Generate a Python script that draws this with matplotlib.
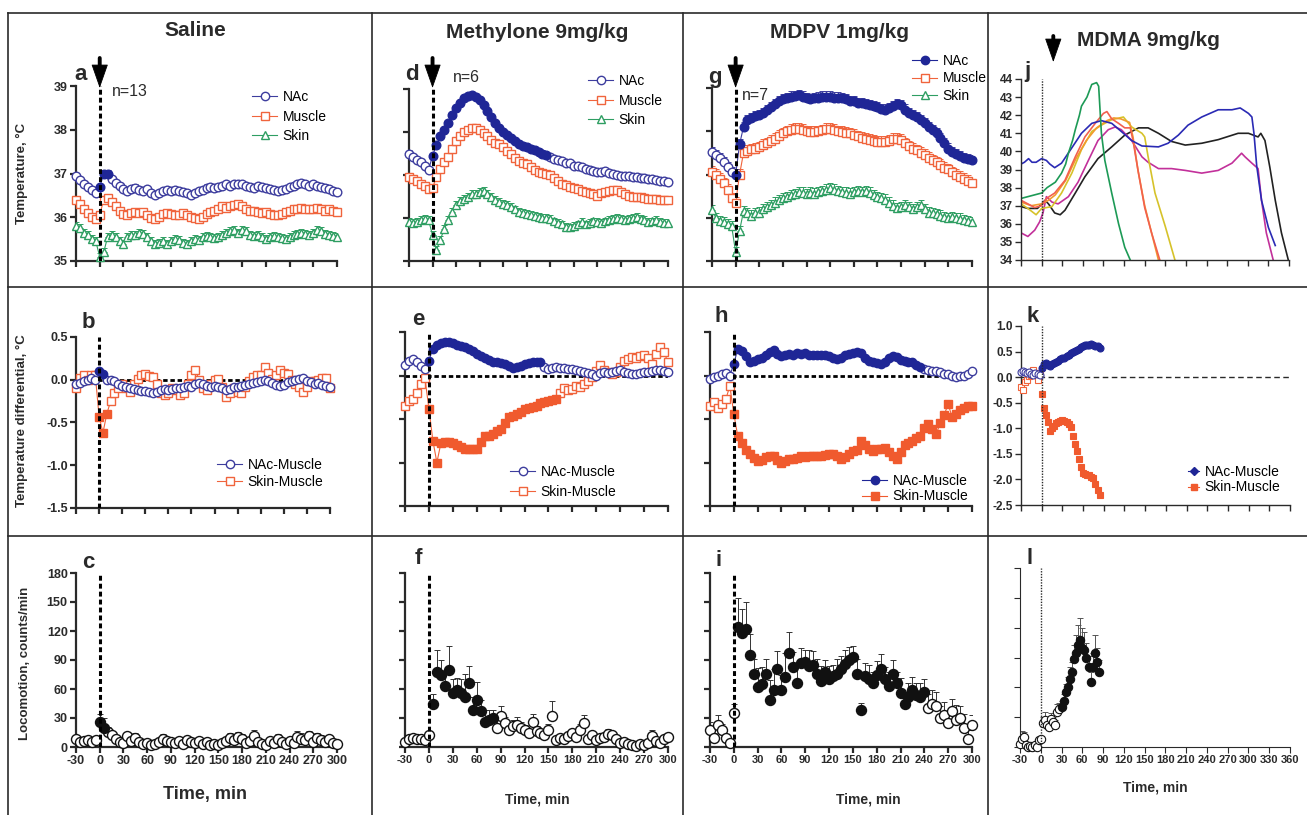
import numpy as np
import matplotlib
matplotlib.use("Agg")
import matplotlib.pyplot as plt
from matplotlib.lines import Line2D

plt.rcParams['font.family'] = ['Liberation Sans', 'DejaVu Sans']
plt.rcParams['font.weight'] = 'bold'
plt.rcParams['axes.unicode_minus'] = False

# time grids, min
t5 = np.arange(-30, 301, 5)
t3 = np.arange(-30, 85, 3)

# ---- row 1: temperature (degC) ----
sal_nac = [36.95, 36.85, 36.75, 36.70, 36.62, 36.55,
           36.70, 36.98, 37.00, 36.88, 36.78, 36.72, 36.65, 36.60, 36.65, 36.68,
           36.62, 36.60, 36.65, 36.55, 36.50, 36.55, 36.60, 36.62, 36.60, 36.62,
           36.60, 36.58, 36.55, 36.50, 36.55, 36.60, 36.62, 36.68, 36.70, 36.68,
           36.70, 36.72, 36.75, 36.72, 36.75, 36.77, 36.75, 36.72, 36.70, 36.68,
           36.72, 36.70, 36.68, 36.65, 36.62, 36.60, 36.62, 36.65, 36.70, 36.72,
           36.75, 36.78, 36.75, 36.72, 36.75, 36.72, 36.70, 36.68, 36.65, 36.60, 36.58]
sal_mus = [36.40, 36.30, 36.20, 36.10, 36.00, 35.97,
           36.05, 36.40, 36.45, 36.35, 36.25, 36.15, 36.08, 36.05, 36.10, 36.12,
           36.10, 36.12, 36.05, 35.98, 35.95, 36.00, 36.08, 36.10, 36.08, 36.05,
           36.05, 36.10, 36.05, 36.00, 35.98, 35.95, 36.00, 36.08, 36.12, 36.15,
           36.20, 36.25, 36.22, 36.25, 36.28, 36.30, 36.25, 36.20, 36.15, 36.15,
           36.12, 36.10, 36.12, 36.08, 36.05, 36.05, 36.08, 36.12, 36.15, 36.18,
           36.20, 36.22, 36.20, 36.18, 36.20, 36.22, 36.18, 36.15, 36.20, 36.15, 36.12]
sal_skin = [35.80, 35.75, 35.65, 35.60, 35.50, 35.45,
            35.10, 35.20, 35.55, 35.60, 35.55, 35.45, 35.40, 35.55, 35.60, 35.60,
            35.65, 35.62, 35.55, 35.45, 35.40, 35.42, 35.45, 35.40, 35.45, 35.50,
            35.48, 35.42, 35.38, 35.45, 35.50, 35.48, 35.55, 35.58, 35.55, 35.52,
            35.55, 35.60, 35.65, 35.68, 35.70, 35.65, 35.70, 35.68, 35.60, 35.58,
            35.60, 35.55, 35.50, 35.55, 35.58, 35.55, 35.52, 35.50, 35.55, 35.60,
            35.62, 35.65, 35.62, 35.60, 35.65, 35.70, 35.68, 35.62, 35.60, 35.58, 35.55]

met_nac = [37.50, 37.42, 37.35, 37.30, 37.22, 37.12,
           37.45, 37.70, 37.90, 38.05, 38.20, 38.40, 38.55, 38.68, 38.78, 38.84,
           38.86, 38.82, 38.75, 38.62, 38.48, 38.35, 38.22, 38.10, 38.00, 37.92,
           37.85, 37.78, 37.72, 37.68, 37.65, 37.60, 37.57, 37.53, 37.50, 37.47,
           37.42, 37.38, 37.35, 37.32, 37.28, 37.27, 37.22, 37.20, 37.18, 37.15,
           37.12, 37.10, 37.08, 37.07, 37.10, 37.05, 37.02, 37.00, 36.98, 36.97,
           36.98, 36.96, 36.95, 36.93, 36.92, 36.90, 36.90, 36.88, 36.86, 36.85, 36.84]
met_mus = [36.95, 36.90, 36.85, 36.80, 36.75, 36.68,
           36.70, 36.95, 37.15, 37.30, 37.42, 37.60, 37.78, 37.90, 38.00, 38.05,
           38.10, 38.10, 38.05, 37.98, 37.90, 37.82, 37.75, 37.72, 37.65, 37.55,
           37.48, 37.40, 37.33, 37.28, 37.25, 37.18, 37.12, 37.08, 37.05, 37.03,
           37.00, 36.92, 36.85, 36.80, 36.76, 36.72, 36.70, 36.68, 36.62, 36.60,
           36.58, 36.55, 36.52, 36.57, 36.60, 36.62, 36.65, 36.66, 36.60, 36.55,
           36.52, 36.50, 36.50, 36.48, 36.47, 36.45, 36.45, 36.44, 36.43, 36.42, 36.42]
met_skin = [35.90, 35.88, 35.90, 35.95, 35.97, 35.95,
            35.60, 35.25, 35.50, 35.75, 35.95, 36.15, 36.30, 36.40, 36.45, 36.50,
            36.55, 36.55, 36.60, 36.62, 36.55, 36.50, 36.42, 36.38, 36.33, 36.30,
            36.25, 36.20, 36.15, 36.12, 36.10, 36.08, 36.05, 36.02, 36.00, 36.00,
            35.98, 35.92, 35.88, 35.85, 35.80, 35.78, 35.82, 35.85, 35.90, 35.85,
            35.88, 35.92, 35.90, 35.88, 35.92, 35.95, 35.97, 36.00, 35.97, 35.95,
            35.98, 36.00, 36.02, 35.98, 35.95, 35.90, 35.92, 35.95, 35.90, 35.88, 35.88]

mdpv_nac = [37.52, 37.45, 37.38, 37.28, 37.18, 37.05,
            37.00, 37.70, 38.10, 38.25, 38.30, 38.35, 38.37, 38.42, 38.48, 38.55,
            38.62, 38.70, 38.74, 38.76, 38.80, 38.82, 38.83, 38.80, 38.77, 38.75,
            38.76, 38.78, 38.80, 38.80, 38.80, 38.78, 38.78, 38.76, 38.74, 38.70,
            38.70, 38.66, 38.65, 38.62, 38.60, 38.58, 38.55, 38.52, 38.50, 38.53,
            38.58, 38.62, 38.60, 38.50, 38.42, 38.38, 38.33, 38.25, 38.18, 38.10,
            38.02, 37.95, 37.85, 37.72, 37.60, 37.52, 37.48, 37.42, 37.38, 37.35, 37.33]
mdpv_mus = [37.06, 37.00, 36.90, 36.80, 36.65, 36.45,
            36.35, 37.00, 37.50, 37.55, 37.58, 37.60, 37.63, 37.68, 37.72, 37.78,
            37.82, 37.90, 37.95, 38.00, 38.03, 38.05, 38.06, 38.04, 38.00, 37.98,
            37.98, 38.00, 38.02, 38.05, 38.06, 38.04, 38.00, 37.98, 37.96, 37.95,
            37.92, 37.88, 37.85, 37.83, 37.80, 37.78, 37.76, 37.75, 37.76, 37.78,
            37.82, 37.83, 37.80, 37.72, 37.65, 37.60, 37.56, 37.50, 37.45, 37.38,
            37.33, 37.28, 37.22, 37.16, 37.12, 37.05, 36.99, 36.95, 36.90, 36.85, 36.80]
mdpv_skin = [36.18, 36.00, 35.92, 35.90, 35.85, 35.80,
             35.20, 35.70, 36.15, 36.10, 36.05, 36.10, 36.12, 36.20, 36.25, 36.30,
             36.35, 36.40, 36.45, 36.48, 36.52, 36.55, 36.60, 36.58, 36.55, 36.58,
             36.56, 36.60, 36.62, 36.65, 36.68, 36.65, 36.62, 36.60, 36.58, 36.56,
             36.60, 36.62, 36.60, 36.62, 36.58, 36.52, 36.48, 36.45, 36.42, 36.35,
             36.28, 36.22, 36.25, 36.30, 36.25, 36.20, 36.25, 36.30, 36.20, 36.12,
             36.10, 36.08, 36.05, 36.02, 36.00, 36.02, 36.00, 35.98, 35.95, 35.92, 35.90]

# MDMA individual traces (time, temperature)
j_green_t = [-30, -20, -10, 0, 8, 20, 29, 35, 39, 45, 49, 55, 58, 66, 73, 80, 83, 85, 87, 92, 102, 112, 121, 129]
j_green_T = [37.4, 37.5, 37.6, 37.7, 38.0, 38.3, 38.8, 39.3, 39.9, 40.6, 41.2, 42.0, 42.5, 43.0, 43.7, 43.8,
             43.6, 42.3, 41.0, 39.5, 37.7, 36.0, 34.7, 34.0]
j_blue_t = [-30, -25, -19, -14, -8, 0, 7, 12, 19, 29, 44, 58, 73, 87, 102, 116, 131, 146, 170, 184, 199,
            213, 233, 257, 277, 289, 301, 306, 309, 313, 320, 330, 340]
j_blue_T = [39.3, 39.4, 39.6, 39.4, 39.4, 39.6, 39.5, 39.3, 39.1, 39.35, 40.2, 41.0, 41.55, 41.7, 41.55,
            41.1, 40.6, 40.3, 40.25, 40.45, 40.9, 41.45, 41.9, 42.3, 42.3, 42.4, 42.1, 41.9, 41.0, 39.2,
            37.3, 35.8, 34.8]
j_red_t = [-30, -20, -10, 0, 7, 19, 34, 49, 63, 78, 90, 95, 102, 112, 121, 129, 133, 141, 150, 160, 172]
j_red_T = [37.3, 37.1, 36.9, 37.0, 37.4, 37.7, 38.4, 39.7, 40.8, 41.55, 42.1, 42.2, 41.8, 41.55, 41.3,
           41.3, 40.6, 38.8, 36.9, 35.5, 34.0]
j_orange_t = [-30, -15, 0, 10, 20, 35, 50, 65, 80, 95, 105, 115, 128, 133, 140, 150, 160, 170]
j_orange_T = [37.2, 37.0, 37.1, 37.3, 37.6, 38.4, 39.6, 40.6, 41.3, 41.7, 41.85, 41.8, 41.6, 40.8, 39.0,
              37.0, 35.5, 34.0]
j_yellow_t = [-30, -20, -8, 0, 15, 29, 44, 58, 73, 87, 102, 119, 131, 146, 150, 155, 165, 180, 194]
j_yellow_T = [37.1, 36.85, 36.5, 36.85, 36.95, 37.7, 38.8, 40.1, 41.1, 41.45, 41.75, 41.9, 41.35, 41.0,
              40.8, 39.7, 37.7, 35.85, 34.0]
j_magenta_t = [-30, -20, -10, -3, 2, 7, 15, 24, 39, 53, 68, 82, 97, 107, 116, 131, 146, 155, 170, 189,
               209, 233, 257, 277, 291, 296, 306, 315, 320, 327, 337]
j_magenta_T = [35.5, 35.3, 35.65, 36.1, 36.6, 37.5, 37.2, 37.1, 37.5, 38.3, 39.5, 40.6, 41.2, 41.35,
               41.2, 40.6, 39.7, 39.4, 39.05, 39.05, 38.95, 38.8, 38.95, 39.35, 39.9, 39.7, 39.35, 39.05,
               37.3, 35.5, 34.0]
j_black_t = [-30, -20, -6, 5, 10, 19, 27, 34, 49, 63, 82, 102, 121, 141, 155, 170, 189, 209, 233, 257,
             286, 301, 315, 319, 325, 332, 340, 349, 359]
j_black_T = [36.95, 36.85, 36.85, 37.3, 37.1, 36.6, 36.5, 36.75, 37.7, 38.6, 39.6, 40.25, 40.9, 41.3,
             41.3, 41.0, 40.55, 40.35, 40.45, 40.65, 41.0, 41.0, 40.8, 41.0, 40.6, 39.15, 37.3, 35.5, 34.0]

# ---- row 2: differentials (degC) ----
sal_nm = [-0.05, -0.04, -0.02, 0.00, 0.02, 0.00,
          0.10, 0.07, 0.00, 0.00, -0.02, -0.05, -0.07, -0.09, -0.10, -0.11,
          -0.12, -0.13, -0.13, -0.14, -0.15, -0.14, -0.12, -0.11, -0.12, -0.11,
          -0.10, -0.10, -0.08, -0.07, -0.08, -0.05, -0.04, -0.05, -0.07, -0.08,
          -0.07, -0.08, -0.10, -0.12, -0.11, -0.09, -0.08, -0.07, -0.06, -0.05,
          -0.04, -0.03, -0.02, 0.00, -0.02, -0.04, -0.06, -0.07, -0.06, -0.03,
          -0.01, 0.00, 0.01, 0.02, -0.01, -0.03, -0.05, -0.04, -0.06, -0.07, -0.08]
sal_sm = [-0.10, 0.02, 0.05, 0.00, 0.05, 0.06,
          -0.43, -0.62, -0.40, -0.25, -0.15, -0.10, -0.05, -0.10, -0.14, -0.05,
          0.01, 0.05, 0.07, 0.04, 0.03, -0.05, -0.15, -0.18, -0.15, -0.10,
          -0.12, -0.18, -0.15, -0.05, 0.05, 0.11, 0.00, -0.10, -0.12, -0.05,
          0.00, 0.01, -0.08, -0.20, -0.15, -0.10, -0.14, -0.16, -0.08, -0.02,
          0.03, 0.05, 0.05, 0.15, 0.08, 0.01, 0.05, 0.11, 0.08, 0.07,
          0.00, -0.05, -0.08, -0.14, -0.08, -0.02, -0.01, 0.00, 0.02, 0.02, -0.10]
met_nm = [0.12, 0.17, 0.19, 0.15, 0.11, 0.07,
          0.17, 0.31, 0.35, 0.37, 0.38, 0.38, 0.37, 0.35, 0.34, 0.33,
          0.31, 0.28, 0.25, 0.22, 0.20, 0.18, 0.16, 0.15, 0.14, 0.13,
          0.11, 0.09, 0.10, 0.11, 0.13, 0.14, 0.15, 0.16, 0.15, 0.10,
          0.08, 0.09, 0.10, 0.09, 0.09, 0.08, 0.07, 0.06, 0.05, 0.04,
          0.03, 0.02, 0.00, 0.03, 0.04, 0.03, 0.04, 0.05, 0.06, 0.04,
          0.03, 0.02, 0.02, 0.03, 0.04, 0.04, 0.05, 0.06, 0.06, 0.05, 0.04]
met_sm = [-0.35, -0.29, -0.27, -0.20, -0.10, -0.03,
          -0.38, -0.75, -1.00, -0.78, -0.77, -0.76, -0.78, -0.80, -0.82, -0.84,
          -0.85, -0.85, -0.85, -0.76, -0.70, -0.69, -0.67, -0.64, -0.61, -0.55,
          -0.48, -0.46, -0.44, -0.42, -0.39, -0.37, -0.36, -0.35, -0.32, -0.30,
          -0.29, -0.28, -0.27, -0.20, -0.14, -0.17, -0.15, -0.12, -0.13, -0.10,
          -0.06, -0.02, 0.05, 0.12, 0.06, 0.04, 0.02, 0.04, 0.10, 0.17,
          0.19, 0.21, 0.20, 0.22, 0.23, 0.20, 0.13, 0.25, 0.33, 0.27, 0.15]
mdpv_nm = [-0.04, -0.02, 0.00, 0.02, 0.03, 0.00,
           0.13, 0.31, 0.28, 0.22, 0.16, 0.17, 0.19, 0.20, 0.23, 0.27,
           0.29, 0.25, 0.22, 0.24, 0.25, 0.24, 0.26, 0.25, 0.26, 0.24,
           0.24, 0.23, 0.23, 0.23, 0.22, 0.20, 0.19, 0.20, 0.23, 0.25,
           0.26, 0.27, 0.26, 0.20, 0.17, 0.15, 0.14, 0.13, 0.16, 0.20,
           0.22, 0.21, 0.18, 0.17, 0.16, 0.15, 0.12, 0.10, 0.08, 0.06,
           0.05, 0.05, 0.04, 0.02, 0.02, 0.00, -0.02, -0.01, 0.00, 0.02, 0.05]
mdpv_sm = [-0.35, -0.30, -0.37, -0.33, -0.27, -0.12,
           -0.44, -0.70, -0.78, -0.86, -0.90, -0.95, -0.98, -0.97, -0.94, -0.93,
           -0.92, -0.97, -1.00, -0.98, -0.96, -0.96, -0.95, -0.93, -0.94, -0.93,
           -0.93, -0.92, -0.92, -0.91, -0.90, -0.90, -0.93, -0.96, -0.94, -0.90,
           -0.87, -0.86, -0.75, -0.80, -0.85, -0.87, -0.85, -0.84, -0.83, -0.88,
           -0.93, -0.96, -0.88, -0.80, -0.78, -0.75, -0.72, -0.69, -0.60, -0.56,
           -0.62, -0.67, -0.55, -0.45, -0.33, -0.48, -0.44, -0.40, -0.37, -0.35, -0.35]
mdma_nm = [0.10, 0.12, 0.10, 0.08, 0.10, 0.07, 0.05, 0.08, 0.06, 0.04,
           0.17, 0.25, 0.27, 0.24, 0.22, 0.25, 0.28, 0.30, 0.32, 0.35,
           0.37, 0.38, 0.42, 0.44, 0.47, 0.50, 0.51, 0.53, 0.55, 0.58,
           0.60, 0.63, 0.63, 0.62, 0.64, 0.63, 0.60, 0.60, 0.57]
mdma_sm = [-0.19, -0.25, -0.10, -0.05, 0.02, 0.04, 0.14, 0.08, -0.06, 0.07,
           -0.32, -0.61, -0.74, -0.88, -1.05, -1.00, -0.95, -0.90, -0.87, -0.85,
           -0.84, -0.85, -0.87, -0.92, -0.98, -1.15, -1.30, -1.45, -1.60, -1.75,
           -1.88, -1.90, -1.91, -1.92, -1.95, -1.98, -2.08, -2.20, -2.30]

# ---- row 3: locomotion (counts/min) ----
sal_loc = [8, 5, 6, 7, 5, 7,
           26, 20, 16, 12, 8, 5, 4, 11, 6, 9,
           5, 3, 4, 2, 3, 5, 8, 6, 5, 4,
           6, 3, 7, 5, 4, 6, 3, 5, 2, 3,
           2, 4, 6, 9, 7, 10, 8, 4, 6, 11,
           5, 3, 2, 6, 4, 8, 5, 3, 6, 4,
           10, 8, 7, 11, 5, 9, 7, 5, 8, 4, 3]
sal_sem = [3, 3, 3, 3, 3, 3,
           8, 10, 5, 4, 4, 3, 3, 5, 3, 5,
           3, 2, 2, 2, 2, 3, 5, 3, 3, 2,
           3, 2, 4, 3, 2, 3, 2, 3, 2, 2,
           2, 3, 3, 6, 4, 6, 5, 3, 4, 7,
           3, 2, 2, 4, 3, 5, 3, 2, 4, 3,
           7, 6, 5, 6, 3, 6, 5, 3, 4, 3, 2]
met_loc = [5, 8, 9, 8, 8, 7,
           12, 45, 78, 75, 63, 80, 56, 59, 56, 52,
           66, 38, 49, 37, 26, 28, 30, 20, 32, 25,
           18, 22, 23, 20, 18, 14, 26, 17, 14, 12,
           18, 32, 7, 9, 8, 11, 14, 10, 18, 25,
           8, 12, 7, 9, 10, 13, 12, 8, 4, 5,
           3, 2, 1, 3, 2, 4, 11, 6, 4, 8, 10]
met_sem = [3, 3, 3, 3, 3, 3,
           4, 10, 22, 15, 15, 25, 14, 12, 14, 24,
           18, 14, 18, 12, 12, 10, 8, 8, 10, 6,
           5, 6, 8, 6, 5, 4, 8, 5, 4, 4,
           6, 16, 3, 3, 3, 4, 5, 4, 6, 8,
           3, 4, 3, 3, 3, 6, 5, 3, 2, 2,
           2, 1, 1, 2, 1, 2, 7, 3, 2, 3, 4]
mdpv_loc = [18, 9, 23, 18, 9, 4,
            35, 124, 118, 122, 95, 76, 62, 65, 76, 49,
            59, 81, 59, 72, 97, 83, 66, 87, 88, 84,
            85, 76, 68, 78, 70, 73, 76, 81, 86, 90,
            93, 76, 38, 73, 70, 66, 75, 81, 70, 63,
            76, 66, 56, 45, 52, 59, 54, 52, 57, 40,
            45, 42, 30, 33, 25, 37, 28, 30, 20, 8, 23]
mdpv_sem = [8, 5, 10, 6, 4, 3,
            10, 30, 25, 28, 22, 15, 20, 18, 15, 20,
            22, 18, 15, 25, 22, 15, 18, 15, 12, 16,
            14, 15, 16, 12, 14, 12, 15, 13, 14, 13,
            12, 15, 8, 14, 15, 12, 14, 15, 13, 15,
            14, 12, 15, 12, 14, 13, 12, 14, 13, 15,
            14, 15, 12, 14, 12, 13, 15, 12, 14, 10, 10]
mdma_loc = [3, 8, 10, 2, 0, 1, 0, 2, 0, 7,
            8, 24, 27, 22, 20, 28, 25, 22, 35, 38,
            40, 46, 55, 60, 68, 75, 88, 95, 103, 108,
            100, 98, 90, 80, 65, 80, 95, 85, 75]
mdma_sem = [2, 8, 5, 1, 1, 1, 1, 1, 1, 3,
            3, 6, 8, 5, 5, 6, 5, 5, 8, 6,
            6, 7, 8, 10, 12, 10, 15, 18, 20, 22,
            20, 18, 15, 12, 10, 15, 18, 15, 12]

BLUE = '#3d3d9e'
BLUE_F = '#1f2696'
ORANGE = '#f0643c'
GREEN = '#2e9e62'
INK = '#2a2a2a'

W, H = 1307, 815
fig = plt.figure(figsize=(W / 100, H / 100), dpi=100)


def box(l, t, r, b):
    return [l / W, 1 - b / H, (r - l) / W, (b - t) / H]


def ftext(x, y, s, **kw):
    fig.text(x / W, 1 - y / H, s, color=INK, **kw)


def style(ax, xmax=300, xlab=False, ylab=True, lw=1.6, fs=9):
    for s in ['top', 'right']:
        ax.spines[s].set_visible(False)
    for s in ['left', 'bottom']:
        ax.spines[s].set_linewidth(lw)
        ax.spines[s].set_color(INK)
    ax.set_xlim(-30, xmax)
    ax.set_xticks(np.arange(-30, xmax + 1, 30))
    ax.tick_params(direction='out', length=4, width=lw, labelsize=fs, color=INK,
                   labelcolor=INK, pad=2)
    if not xlab:
        ax.set_xticklabels([])
    if not ylab:
        ax.set_yticklabels([])


def trace(ax, t, y, color, marker, ms, sig=None, fill=None, sem=None, line=True,
          ecolor=None, mew=1.0):
    t = np.asarray(t, float)
    y = np.asarray(y, float)
    if line:
        ax.plot(t, y, '-', color=color, lw=0.8, zorder=2)
    if sem is not None:
        up = np.broadcast_to(np.asarray(sem, float), y.shape)
        ax.errorbar(t, y, yerr=[np.zeros_like(y), up], fmt='none',
                    ecolor=ecolor or color, elinewidth=0.7, capsize=2.2,
                    capthick=0.7, zorder=1)
    m = np.zeros(len(t), bool) if sig is None else (t >= sig[0]) & (t <= sig[1])
    ax.plot(t[~m], y[~m], ls='none', marker=marker, ms=ms, mfc='white', mec=color,
            mew=mew, zorder=3, clip_on=False)
    if m.any():
        fc = fill or color
        ax.plot(t[m], y[m], ls='none', marker=marker, ms=ms, mfc=fc, mec=fc,
                mew=mew, zorder=4, clip_on=False)


def vline0(ax, thin=False):
    if thin:
        ax.axvline(0, color=INK, ls=(0, (1, 1)), lw=1.0, zorder=5)
    else:
        ax.axvline(0, color='k', ls=(0, (1.6, 1.0)), lw=2.2, zorder=5)


def arrow(ax, x, y_tail, y_tip):
    # shaft and head drawn separately so the head keeps a slim outline
    kw = dict(xycoords=('data', 'figure pixels'), textcoords=('data', 'figure pixels'),
              annotation_clip=False)
    ax.annotate('', xy=(x, H - (y_tip - 10)), xytext=(x, H - y_tail),
                arrowprops=dict(arrowstyle='-', lw=2.8, color='k', shrinkA=0, shrinkB=0), **kw)
    ax.annotate('', xy=(x, H - y_tip), xytext=(x, H - (y_tip - 16)),
                arrowprops=dict(arrowstyle='-|>,head_length=1.2,head_width=0.42', lw=0.6,
                                color='k', shrinkA=0, shrinkB=0, mutation_scale=13), **kw)


def legend(ax, handles, labels, x, y, spacing, hl=1.8):
    ax.legend(handles, labels, loc='upper left', bbox_to_anchor=(x / W, 1 - y / H),
              bbox_transform=fig.transFigure, frameon=False, borderpad=0,
              borderaxespad=0, handlelength=hl, handletextpad=0.4,
              labelspacing=spacing, prop={'size': 10, 'weight': 'normal'})


def h(color, marker, filled=False, ms=6):
    return Line2D([], [], color=color, lw=0.8, marker=marker, ms=ms,
                  mfc=color if filled else 'white', mec=color, mew=1)


# frame lines of the figure table
for x in [8, 372, 683, 988]:
    fig.add_artist(Line2D([x / W, x / W], [1 - 13 / H, 0], color=INK, lw=1.2))
for y in [13, 287, 536]:
    fig.add_artist(Line2D([8 / W, 1], [1 - y / H, 1 - y / H], color=INK, lw=1.2))

# ---------------- row 1 ----------------
temp_sets = [
    ((76, 86, 337, 261), sal_nac, sal_mus, sal_skin, (0, 10), (0.07, 0.09, 0.09), True),
    ((409, 89, 668, 261), met_nac, met_mus, met_skin, (0, 145), (0.07, 0.08, 0.09), False),
    ((712, 88, 972, 261), mdpv_nac, mdpv_mus, mdpv_skin, (0, 300), (0.12, 0.13, 0.12), False),
]
tax = []
for bx, nac, mus, skin, sig, sems, ylab in temp_sets:
    ax = fig.add_axes(box(*bx))
    trace(ax, t5, skin, GREEN, '^', 6.3, sem=sems[2])
    trace(ax, t5, mus, ORANGE, 's', 5.8, sem=sems[1])
    trace(ax, t5, nac, BLUE, 'o', 6.2, sig=sig, fill=BLUE_F, sem=sems[0])
    ax.set_ylim(35, 39)
    ax.set_yticks([35, 36, 37, 38, 39])
    style(ax, ylab=ylab)
    vline0(ax)
    arrow(ax, 0, 58, 88)
    tax.append(ax)

legend(tax[0], [h(BLUE, 'o'), h(ORANGE, 's'), h(GREEN, '^')], ['NAc', 'Muscle', 'Skin'],
       252, 90, 0.4)
legend(tax[1], [h(BLUE, 'o'), h(ORANGE, 's'), h(GREEN, '^')], ['NAc', 'Muscle', 'Skin'],
       588, 74, 0.4)
legend(tax[2], [h(BLUE_F, 'o', True), h(ORANGE, 's'), h(GREEN, '^')], ['NAc', 'Muscle', 'Skin'],
       912, 54, 0.25)

axj = fig.add_axes(box(1021, 79, 1289, 260))
for tt, TT, c in [(j_black_t, j_black_T, '#222222'), (j_magenta_t, j_magenta_T, '#c2309a'),
                  (j_yellow_t, j_yellow_T, '#d6c22a'), (j_orange_t, j_orange_T, '#f29a2e'),
                  (j_red_t, j_red_T, '#f2604e'), (j_blue_t, j_blue_T, '#2a2ab4'),
                  (j_green_t, j_green_T, '#1d9a56')]:
    axj.plot(tt, TT, color=c, lw=1.2)
axj.set_ylim(34, 44)
axj.set_yticks(range(34, 45))
style(axj, xmax=360, lw=1.0, fs=8.5)
vline0(axj, thin=True)
arrow(axj, 17, 36, 62)

# ---------------- row 2 ----------------
diff_sets = [
    ((76, 337, 330, 508), sal_nm, sal_sm, (0, 5), (0, 10), True),
    ((405, 332, 668, 506), met_nm, met_sm, (0, 140), (0, 160), False),
    ((710, 332, 972, 506), mdpv_nm, mdpv_sm, (0, 235), (0, 300), False),
]
dax = []
for bx, nm, sm, sig1, sig2, ylab in diff_sets:
    ax = fig.add_axes(box(*bx))
    ax.axhline(0, color='k', ls=(0, (1.6, 1.0)), lw=2.0, zorder=0.5)
    trace(ax, t5, sm, ORANGE, 's', 6.0, sig=sig2, fill='#f05a2e')
    trace(ax, t5, nm, BLUE, 'o', 6.0, sig=sig1, fill=BLUE_F)
    ax.set_ylim(-1.5, 0.5)
    ax.set_yticks([-1.5, -1.0, -0.5, 0.0, 0.5])
    ax.set_yticklabels(['-1.5', '-1.0', '-0.5', '0.0', '0.5'])
    style(ax, ylab=ylab)
    vline0(ax)
    dax.append(ax)

legend(dax[0], [h(BLUE, 'o'), h(ORANGE, 's')], ['NAc-Muscle', 'Skin-Muscle'], 217, 458, 0.22)
legend(dax[1], [h(BLUE, 'o'), h(ORANGE, 's')], ['NAc-Muscle', 'Skin-Muscle'], 510, 465, 0.45)
legend(dax[2], [h(BLUE_F, 'o', True), h('#f05a2e', 's', True)], ['NAc-Muscle', 'Skin-Muscle'],
       862, 474, 0.1)

axk = fig.add_axes(box(1021, 326, 1290, 505))
axk.axhline(0, color=INK, ls=(0, (4, 2.5)), lw=1.0, zorder=0.5)
trace(axk, t3, mdma_sm, ORANGE, 's', 5.0, sig=(0, 90), fill='#f05a2e', line=False, mew=0.8)
trace(axk, t3, mdma_nm, BLUE, 'o', 5.0, sig=(0, 90), fill=BLUE_F, line=False, mew=0.8)
axk.set_ylim(-2.5, 1.0)
axk.set_yticks(np.arange(-2.5, 1.01, 0.5))
axk.set_yticklabels(['-2.5', '-2.0', '-1.5', '-1.0', '-0.5', '0.0', '0.5', '1.0'])
style(axk, xmax=360, lw=1.0, fs=8.5)
vline0(axk, thin=True)
legend(axk, [h(BLUE_F, 'D', True, 4), h('#f05a2e', 's', True, 5)], ['NAc-Muscle', 'Skin-Muscle'],
       1188, 465, 0.1, hl=0.8)

# ---------------- row 3 ----------------
loc_sets = [
    ((76, 573, 337, 747), sal_loc, sal_sem, (0, 5), True, 9),
    ((405, 573, 668, 747), met_loc, met_sem, (5, 80), False, 8),
    ((710, 573, 972, 747), mdpv_loc, mdpv_sem, (5, 240), False, 8),
]
for bx, loc, sem, sig, ylab, fs in loc_sets:
    ax = fig.add_axes(box(*bx))
    trace(ax, t5, loc, '#111111', 'o', 7.2, sig=sig, fill='#111111', sem=sem, line=False,
          ecolor='#333333')
    ax.set_ylim(0, 180)
    ax.set_yticks(range(0, 181, 30))
    style(ax, xlab=True, ylab=ylab, fs=fs)
    vline0(ax)

axl = fig.add_axes(box(1020, 568, 1290, 747))
trace(axl, t3, mdma_loc, '#111111', 'o', 6.0, sig=(30, 90), fill='#111111', sem=mdma_sem,
      line=False, ecolor='#555555', mew=0.8)
axl.set_ylim(0, 180)
axl.set_yticks(range(0, 181, 30))
style(axl, xmax=360, xlab=True, ylab=False, lw=0.8, fs=8)
vline0(axl, thin=True)

# ---------------- text ----------------
ftext(195, 30, 'Saline', fontsize=15, ha='center', va='center')
ftext(537, 33, 'Methylone 9mg/kg', fontsize=15, ha='center', va='center')
ftext(840, 33, 'MDPV 1mg/kg', fontsize=15, ha='center', va='center')
ftext(1148, 40, 'MDMA 9mg/kg', fontsize=15, ha='center', va='center')

for s, x, y in [('a', 74, 75), ('d', 405, 75), ('g', 708, 77), ('j', 1024, 72),
                ('b', 82, 323), ('e', 412, 320), ('h', 715, 317), ('k', 1027, 317),
                ('c', 82, 562), ('f', 415, 559), ('i', 716, 560), ('l', 1027, 558)]:
    ftext(x, y, s, fontsize=16, ha='left', va='center')

ftext(112, 92, 'n=13', fontsize=11.5, fontweight='normal', ha='left', va='center')
ftext(453, 77, 'n=6', fontsize=11.5, fontweight='normal', ha='left', va='center')
ftext(742, 95, 'n=7', fontsize=11.5, fontweight='normal', ha='left', va='center')

ftext(22, 173, 'Temperature, °C', fontsize=9.5, rotation=90, ha='center', va='center')
ftext(22, 421, 'Temperature differential, °C', fontsize=9.5, rotation=90, ha='center', va='center')
ftext(25, 663, 'Locomotion, counts/min', fontsize=9.5, rotation=90, ha='center', va='center')

ftext(205, 795, 'Time, min', fontsize=13, ha='center', va='center')
ftext(537, 800, 'Time, min', fontsize=10, ha='center', va='center')
ftext(868, 800, 'Time, min', fontsize=10, ha='center', va='center')
ftext(1155, 787, 'Time, min', fontsize=10, ha='center', va='center')

fig.savefig('out.png', dpi=100)
